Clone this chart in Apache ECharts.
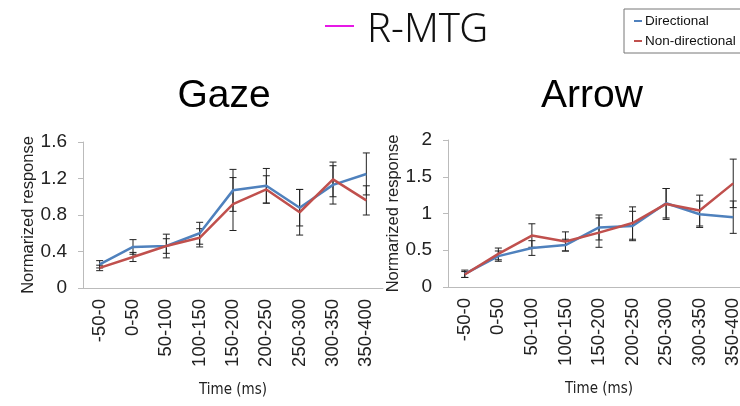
<!DOCTYPE html>
<html><head><meta charset="utf-8">
<script src="https://cdn.jsdelivr.net/npm/echarts@6/dist/echarts.min.js"></script>
<style>html,body{margin:0;padding:0;background:#fff}#c{width:740px;height:406px}</style>
</head><body><div id="c"></div>
<script>
var categories = ['-50-0','0-50','50-100','100-150','150-200','200-250','250-300','300-350','350-400'];
var gazeDirectional = [0.26,0.45,0.46,0.60,1.07,1.12,0.88,1.13,1.25];
var gazeNonDirectional = [0.22,0.34,0.46,0.55,0.92,1.08,0.83,1.19,0.96];
var gazeDirErr = [0.04,0.08,0.08,0.12,0.23,0.19,0.20,0.21,0.23];
var gazeNonErr = [0.03,0.05,0.13,0.10,0.29,0.15,0.25,0.19,0.16];
var arrowDirectional = [0.18,0.42,0.53,0.57,0.81,0.83,1.14,0.99,0.95];
var arrowNonDirectional = [0.17,0.45,0.70,0.62,0.74,0.87,1.13,1.04,1.41];
var arrowDirErr = [0.05,0.07,0.10,0.08,0.17,0.20,0.20,0.18,0.22];
var arrowNonErr = [0.04,0.08,0.16,0.13,0.20,0.22,0.21,0.21,0.33];
var gazeTicks = [0,0.4,0.8,1.2,1.6];
var arrowTicks = [0,0.5,1,1.5,2];

var BLUE = '#4F81BD', RED = '#C0504D';
function errData(vals, errs){ return vals.map(function(v,i){ return [i, v-errs[i], v+errs[i]]; }); }
function errSeries(xi, vals, errs){
  return {
    type:'custom', xAxisIndex:xi, yAxisIndex:xi, silent:true, z:1,
    data: errData(vals, errs),
    encode:{x:0, y:[1,2]},
    renderItem:function(params, api){
      var lo = api.coord([api.value(0), api.value(1)]);
      var hi = api.coord([api.value(0), api.value(2)]);
      var w = 3.5, st = {stroke:'#222', lineWidth:1};
      return {type:'group', children:[
        {type:'line', shape:{x1:lo[0],y1:lo[1],x2:hi[0],y2:hi[1]}, style:st},
        {type:'line', shape:{x1:lo[0]-w,y1:lo[1],x2:lo[0]+w,y2:lo[1]}, style:st},
        {type:'line', shape:{x1:hi[0]-w,y1:hi[1],x2:hi[0]+w,y2:hi[1]}, style:st}
      ]};
    }
  };
}
function lineSeries(name, xi, vals, color){
  return {name:name, type:'line', xAxisIndex:xi, yAxisIndex:xi, data:vals, symbol:'none', z:3,
    lineStyle:{color:color, width:2.5}, itemStyle:{color:color}};
}
var F = 'Liberation Sans, Arial, sans-serif';
function xAxis(gi){
  return {type:'category', gridIndex:gi, data:categories, boundaryGap:true,
    axisLine:{lineStyle:{color:'#bbb'}}, axisTick:{lineStyle:{color:'#bbb'}, length:5},
    axisLabel:{rotate:90, color:'#222', fontSize:18.5, fontFamily:F, margin:11, interval:0},
    name:'Time (ms)', nameLocation:'middle', nameGap:95,
    nameTextStyle:{color:'#222', fontSize:15, fontFamily:'DejaVu Sans Condensed, Liberation Sans Narrow, sans-serif'}};
}
function yAxis(gi, ticks){
  return {type:'value', gridIndex:gi, min:ticks[0], max:ticks[ticks.length-1], interval:ticks[1]-ticks[0],
    axisLine:{show:true, lineStyle:{color:'#bbb'}}, axisTick:{show:true, length:5, lineStyle:{color:'#bbb'}},
    splitLine:{show:false},
    axisLabel:{color:'#222', fontSize:19, fontFamily:F, margin:16},
    name:'Normarized response', nameLocation:'middle', nameGap:45, nameRotate:90,
    nameTextStyle:{color:'#222', fontSize:16.5, fontFamily:F}};
}
var chart = echarts.init(document.getElementById('c'), null, {renderer:'canvas'});
chart.setOption({
  animation:false,
  backgroundColor:'#fff',
  title:[
    {text:'Gaze', left:219, top:72, textAlign:'center', textStyle:{fontSize:39, fontWeight:'normal', color:'#000', fontFamily:F}},
    {text:'Arrow', left:587, top:72, textAlign:'center', textStyle:{fontSize:39, fontWeight:'normal', color:'#000', fontFamily:F}},
    {text:'R-MTG', left:362, top:6, textStyle:{fontSize:40, fontWeight:300, color:'#111', fontFamily:'Noto Sans, Open Sans, sans-serif'}}
  ],
  graphic:[
    {type:'line', shape:{x1:325,y1:26,x2:354,y2:26}, style:{stroke:'#E619E6', lineWidth:2}}
  ],
  legend:{
    data:['Directional','Non-directional'], orient:'vertical', left:624, top:9,
    borderColor:'#777', borderWidth:1, padding:[5,20,5,10], itemGap:6,
    icon:'rect', itemWidth:8, itemHeight:2, itemStyle:{borderWidth:0},
    textStyle:{fontSize:13.5, color:'#111', fontFamily:F, padding:[0,0,0,-2]}
  },
  grid:[
    {left:83, top:142, width:300, height:146, outerBoundsMode:'none'},
    {left:448, top:140, width:302, height:147, outerBoundsMode:'none'}
  ],
  xAxis:[xAxis(0), xAxis(1)],
  yAxis:[yAxis(0, gazeTicks), yAxis(1, arrowTicks)],
  series:[
    errSeries(0, gazeDirectional, gazeDirErr),
    errSeries(0, gazeNonDirectional, gazeNonErr),
    errSeries(1, arrowDirectional, arrowDirErr),
    errSeries(1, arrowNonDirectional, arrowNonErr),
    lineSeries('Directional', 0, gazeDirectional, BLUE),
    lineSeries('Non-directional', 0, gazeNonDirectional, RED),
    lineSeries('Directional', 1, arrowDirectional, BLUE),
    lineSeries('Non-directional', 1, arrowNonDirectional, RED)
  ]
});
</script></body></html>
